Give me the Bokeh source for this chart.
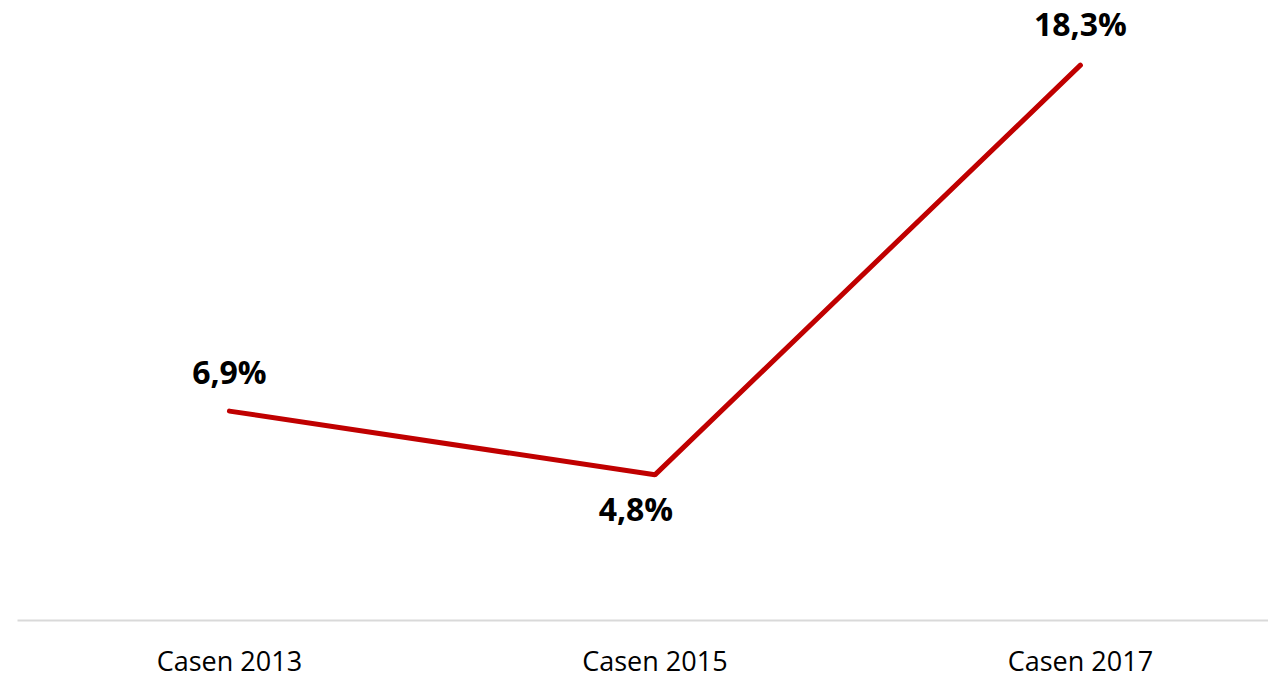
from bokeh.plotting import figure
from bokeh.models import ColumnDataSource, FixedTicker, Range1d
from bokeh.core.properties import value
from bokeh.embed import file_html
from bokeh.resources import INLINE

categories = ["Casen 2013", "Casen 2015", "Casen 2017"]
values = [6.9, 4.8, 18.3]
labels = ["6,9%", "4,8%", "18,3%"]

xs = list(range(len(categories)))
label_dx = [0, -19, 0]
label_dy = [-40, 34, -42]

src = ColumnDataSource(dict(x=xs, y=values, label=labels, dx=label_dx, dy=label_dy))

p = figure(width=1268, height=681, output_backend="svg", toolbar_location=None,
           x_range=Range1d(-0.498, 2.442), y_range=Range1d(0, 20.43),
           min_border_left=17, min_border_right=0, min_border_top=0, min_border_bottom=58)
p.outline_line_color = None
p.grid.visible = False
p.yaxis.visible = False

p.line("x", "y", source=src, line_color="#C00000", line_width=5, line_cap="round")

p.text("x", "y", text="label", source=src, x_offset="dx", y_offset="dy",
       text_align="center", text_baseline="middle",
       text_font=value("Open Sans"), text_font_style="bold", text_font_size="32px",
       text_color="#000000")

ax = p.xaxis[0]
ax.ticker = FixedTicker(ticks=xs)
ax.major_label_overrides = {i: c for i, c in zip(xs, categories)}
ax.axis_line_color = "#D9D9D9"
ax.axis_line_width = 2
ax.major_tick_line_color = None
ax.minor_tick_line_color = None
ax.major_tick_in = 0
ax.major_tick_out = 0
ax.major_label_standoff = 21
ax.major_label_text_font = "Open Sans"
ax.major_label_text_font_size = "27px"
ax.major_label_text_color = "#000000"

open("out.html", "w").write(file_html(p, INLINE))
